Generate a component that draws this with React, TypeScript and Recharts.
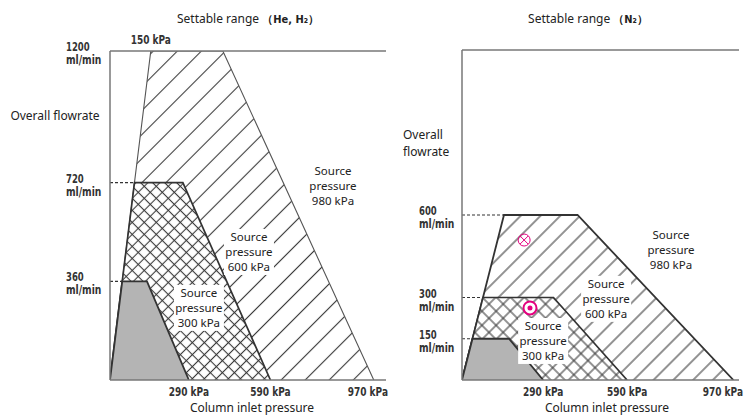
import React from 'react';
import { ComposedChart, Area, XAxis, YAxis, ReferenceLine, ReferenceDot } from 'recharts';

// He/H2 panel (x: kPa, y: ml/min)
const heX980 = [0, 150, 415, 970];
const heY980 = [0, 1200, 1200, 0];
const heX600 = [0, 90, 268, 590];
const heY600 = [0, 720, 720, 0];
const heX300 = [0, 45, 136, 290];
const heY300 = [0, 360, 360, 0];
const heYTicks = [1200, 720, 360];

// N2 panel
const nX980 = [0, 150, 413, 970];
const nY980 = [0, 600, 600, 0];
const nX600 = [0, 75, 327, 590];
const nY600 = [0, 300, 300, 0];
const nX300 = [0, 37.5, 168, 290];
const nY300 = [0, 150, 150, 0];
const nYTicks = [600, 300, 150];

const xTicks = [290, 590, 970];
const labels980 = ['Source', 'pressure', '980 kPa'];
const labels600 = ['Source', 'pressure', '600 kPa'];
const labels300 = ['Source', 'pressure', '300 kPa'];

const toPts = (xs: number[], ys: number[]) => xs.map((x, i) => ({ x, y: ys[i] }));

const TXT = '"Noto Sans", "Open Sans", sans-serif';
const TICK = '"DejaVu Sans Condensed", "Liberation Sans Narrow", sans-serif';
const MAGENTA = '#e4007f';

// narrow gothic look: squeeze bold text to the reference width
const Narrow = ({ x, y, dy, text, anchor }: any) => (
  <text x={x} y={y} dy={dy} fontFamily={TICK} fontWeight="bold" fontSize={12} fill="#333"
    textAnchor={anchor} textLength={text.length * 5.9 - (text.includes(' ') ? 1 : 0)} lengthAdjust="spacingAndGlyphs">
    {text}
  </text>
);

const YTick = ({ y, payload, labelX }: any) => (
  <g>
    <Narrow x={labelX} y={y} dy={0} text={String(payload.value)} anchor="start" />
    <Narrow x={labelX} y={y} dy={13} text="ml/min" anchor="start" />
  </g>
);

const XTick = ({ x, y, payload, maxX }: any) => {
  const text = `${payload.value} kPa`;
  const w = text.length * 5.9;
  if (x + w / 2 > maxX - 5) {
    return <Narrow x={maxX - 5} y={y} dy={10} text={text} anchor="end" />;
  }
  return <Narrow x={x} y={y} dy={10} text={text} anchor="middle" />;
};

const topLabel = (p: any) => <Narrow x={p.cx} y={p.cy} dy={-7} text="150 kPa" anchor="middle" />;

const boxLabel = (lines: string[], box: boolean) => (p: any) => (
  <g>
    {box && <rect x={p.cx - 25} y={p.cy - 23} width={50} height={46} fill="#fff" />}
    {lines.map((l, i) => (
      <text key={i} x={p.cx} y={p.cy + (i - 1) * 15} dominantBaseline="central" textAnchor="middle"
        fontFamily={TXT} fontSize={11.5} fill="#222">{l}</text>
    ))}
  </g>
);

const crossMark = (p: any) => (
  <g stroke={MAGENTA} strokeWidth={1} fill="none">
    <circle cx={p.cx} cy={p.cy} r={6} />
    <line x1={p.cx - 4} y1={p.cy - 4} x2={p.cx + 4} y2={p.cy + 4} />
    <line x1={p.cx - 4} y1={p.cy + 4} x2={p.cx + 4} y2={p.cy - 4} />
  </g>
);

const dotMark = (p: any) => (
  <g>
    <circle cx={p.cx} cy={p.cy} r={6.5} fill="#fff" stroke={MAGENTA} strokeWidth={2} />
    <circle cx={p.cx} cy={p.cy} r={2.5} fill={MAGENTA} />
  </g>
);

type PanelProps = {
  id: string;
  width: number;
  yAxisW: number;
  right: number;
  top: number;
  xMax: number;
  yMax: number;
  maxX: number;
  p980: { x: number; y: number }[];
  p600: { x: number; y: number }[];
  p300: { x: number; y: number }[];
  yTicks: number[];
  labelX: number;
  single: number;
  cross: number;
  thick980: boolean;
  children?: React.ReactNode;
};

const Panel = (pp: PanelProps) => {
  const { id, xMax, yMax } = pp;
  return (
    <ComposedChart width={pp.width} height={416} margin={{ top: pp.top, right: pp.right, bottom: 0, left: 0 }}>
      <defs>
        <pattern id={`${id}-single`} patternUnits="userSpaceOnUse" width={pp.single} height={pp.single} patternTransform="rotate(45)">
          <rect width={pp.single} height={pp.single} fill="#fff" />
          <line x1={pp.single / 2} y1={0} x2={pp.single / 2} y2={pp.single} stroke="#3a3a3a" strokeWidth={1.1} />
        </pattern>
        <pattern id={`${id}-cross`} patternUnits="userSpaceOnUse" width={pp.cross} height={pp.cross} patternTransform="rotate(45)">
          <rect width={pp.cross} height={pp.cross} fill="#fff" />
          <line x1={pp.cross / 2} y1={0} x2={pp.cross / 2} y2={pp.cross} stroke="#3a3a3a" strokeWidth={1.1} />
          <line x1={0} y1={pp.cross / 2} x2={pp.cross} y2={pp.cross / 2} stroke="#3a3a3a" strokeWidth={1.1} />
        </pattern>
      </defs>
      <XAxis type="number" dataKey="x" domain={[0, xMax]} ticks={xTicks} interval={0} height={36}
        tickLine={false} tickMargin={0} axisLine={{ stroke: '#777', strokeWidth: 1.5 }}
        tick={<XTick maxX={pp.maxX} />} allowDataOverflow />
      <YAxis type="number" domain={[0, yMax]} ticks={pp.yTicks} interval={0} width={pp.yAxisW} tickLine={false}
        axisLine={{ stroke: '#777', strokeWidth: 1.5 }} tick={<YTick labelX={pp.labelX} />} allowDataOverflow />
      <YAxis yAxisId="r" orientation="right" type="number" domain={[0, yMax]} width={0} tick={false} tickLine={false}
        axisLine={{ stroke: '#777', strokeWidth: 1.5 }} />
      <Area data={pp.p980} dataKey="y" type="linear" isAnimationActive={false}
        fill={`url(#${id}-single)`} fillOpacity={1}
        stroke={pp.thick980 ? '#333' : '#555'} strokeWidth={pp.thick980 ? 1.8 : 1.1} />
      <Area data={pp.p600} dataKey="y" type="linear" isAnimationActive={false}
        fill={`url(#${id}-cross)`} fillOpacity={1} stroke="#333" strokeWidth={1.7} />
      <Area data={pp.p300} dataKey="y" type="linear" isAnimationActive={false}
        fill="#b4b4b4" fillOpacity={1} stroke="#333" strokeWidth={1.8} />
      {[pp.p980, pp.p600, pp.p300]
        .filter((p) => p[1].y < yMax)
        .map((p, i) => (
          <ReferenceLine key={i} segment={[{ x: 0, y: p[1].y }, { x: p[1].x, y: p[1].y }]}
            stroke="#333" strokeWidth={1.2} strokeDasharray="3 2" />
        ))}
      <ReferenceLine y={yMax} stroke="#777" strokeWidth={1.5} />
      {pp.children}
    </ComposedChart>
  );
};

const Title = ({ left, text, gas }: { left: number; text: string; gas: string }) => (
  <div style={{ position: 'absolute', left, top: 10, width: 220, textAlign: 'center', fontFamily: TXT, fontSize: 12, color: '#222' }}>
    {text}
    <span style={{ fontFamily: TICK, fontWeight: 'bold', fontSize: 11 }}>{gas}</span>
  </div>
);

const Caption = ({ left, top, width, text, align }: any) => (
  <div style={{ position: 'absolute', left, top, width, textAlign: align, fontFamily: TXT, fontSize: 12, color: '#222', lineHeight: '16.5px' }}>
    {text}
  </div>
);

export default function App() {
  return (
    <div style={{ position: 'absolute', left: 0, top: 0, width: 748, height: 416, background: '#fff' }}>
      <div style={{ position: 'absolute', left: 0, top: 0 }}>
        <Panel id="he" width={400} yAxisW={110} right={14} top={51} xMax={1015} yMax={1200} maxX={393}
          p980={toPts(heX980, heY980)} p600={toPts(heX600, heY600)} p300={toPts(heX300, heY300)}
          yTicks={heYTicks} labelX={66} single={17} cross={8.5} thick980={false}>
          <ReferenceDot x={heX980[1]} y={heY980[1]} r={0} shape={topLabel} ifOverflow="visible" />
          <ReferenceDot x={820} y={711} r={0} shape={boxLabel(labels980, false)} />
          <ReferenceDot x={511} y={467} r={0} shape={boxLabel(labels600, true)} />
          <ReferenceDot x={327} y={263} r={0} shape={boxLabel(labels300, true)} />
        </Panel>
      </div>
      <div style={{ position: 'absolute', left: 390, top: 0 }}>
        <Panel id="n2" width={358} yAxisW={72} right={9} top={50} xMax={990} yMax={1200} maxX={358}
          p980={toPts(nX980, nY980)} p600={toPts(nX600, nY600)} p300={toPts(nX300, nY300)}
          yTicks={nYTicks} labelX={29} single={14} cross={10} thick980={true}>
          <ReferenceDot x={747} y={473} r={0} shape={boxLabel(labels980, false)} />
          <ReferenceDot x={515} y={295} r={0} shape={boxLabel(labels600, true)} />
          <ReferenceDot x={290} y={142} r={0} shape={boxLabel(labels300, true)} />
          <ReferenceDot x={222} y={509} r={0} shape={crossMark} />
          <ReferenceDot x={243} y={262} r={0} shape={dotMark} />
        </Panel>
      </div>
      <Title left={138} text="Settable range " gas="（He, H₂）" />
      <Title left={478} text="Settable range " gas="（N₂）" />
      <Caption left={0} top={108} width={110} align="center" text="Overall flowrate" />
      <Caption left={403} top={127} width={60} align="left" text={<>Overall<br />flowrate</>} />
      <Caption left={142} top={400} width={220} align="center" text="Column inlet pressure" />
      <Caption left={497} top={400} width={220} align="center" text="Column inlet pressure" />
    </div>
  );
}
